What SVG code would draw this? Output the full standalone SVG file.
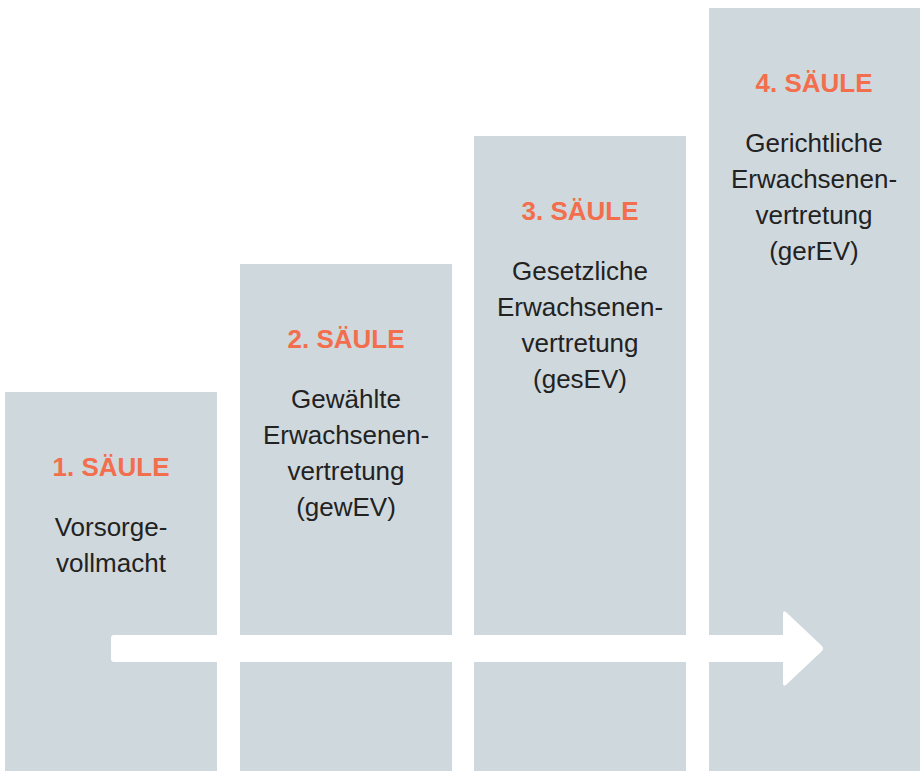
<svg xmlns="http://www.w3.org/2000/svg" width="920" height="771" viewBox="0 0 920 771">
<style>
.col{fill:#CFD8DD}
.t{font-family:"Liberation Sans",Arial,sans-serif;font-size:26px;font-weight:bold;fill:#F26E4C;text-anchor:middle}
.b{font-family:"Liberation Sans",Arial,sans-serif;font-size:26px;fill:#222222;text-anchor:middle}
</style>
<rect width="920" height="771" fill="#FFFFFF"/>
<g id="saeule1">
<rect class="col" x="5" y="392" width="212" height="379"/>
<text class="t" x="111" y="476">1. SÄULE</text>
<text class="b" x="111" y="535.5">Vorsorge-</text>
<text class="b" x="111" y="571.5">vollmacht</text>
</g>
<g id="saeule2">
<rect class="col" x="240" y="264" width="212" height="507"/>
<text class="t" x="346" y="348">2. SÄULE</text>
<text class="b" x="346" y="407.5">Gewählte</text>
<text class="b" x="346" y="443.5">Erwachsenen-</text>
<text class="b" x="346" y="479.5">vertretung</text>
<text class="b" x="346" y="515.5">(gewEV)</text>
</g>
<g id="saeule3">
<rect class="col" x="474" y="136" width="212" height="635"/>
<text class="t" x="580" y="220">3. SÄULE</text>
<text class="b" x="580" y="279.5">Gesetzliche</text>
<text class="b" x="580" y="315.5">Erwachsenen-</text>
<text class="b" x="580" y="351.5">vertretung</text>
<text class="b" x="580" y="387.5">(gesEV)</text>
</g>
<g id="saeule4">
<rect class="col" x="709" y="8" width="211" height="763"/>
<text class="t" x="814" y="92">4. SÄULE</text>
<text class="b" x="814" y="151.5">Gerichtliche</text>
<text class="b" x="814" y="187.5">Erwachsenen-</text>
<text class="b" x="814" y="223.5">vertretung</text>
<text class="b" x="814" y="259.5">(gerEV)</text>
</g>
<g id="connectors">
<path d="M114,635 L783,635 L783,614 Q783,609 787,613 L822,646 Q824,648.5 822,651 L787,684 Q783,688 783,683 L783,662 L114,662 Q111,662 111,659 L111,638 Q111,635 114,635 Z" fill="#FFFFFF"/>
</g>
</svg>
